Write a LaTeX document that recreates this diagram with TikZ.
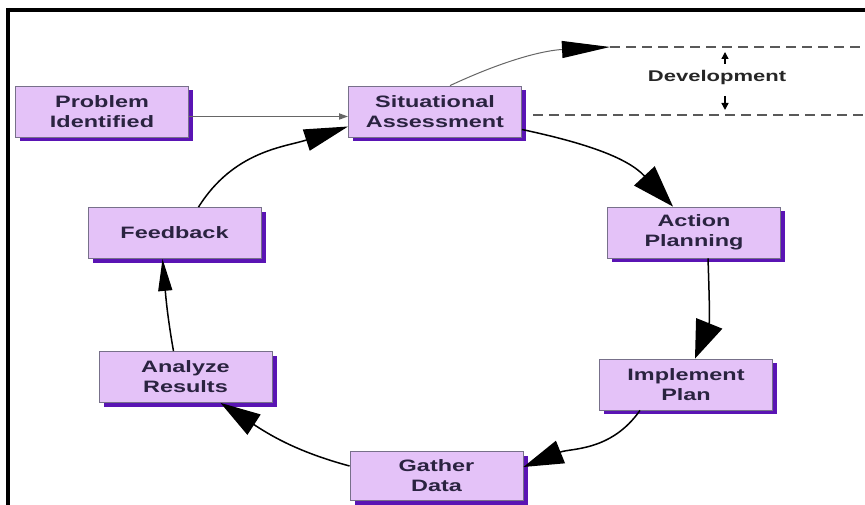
\documentclass[tikz,border=0pt]{standalone}
\usepackage{fontspec}
\newfontfamily\boxfont[FakeStretch=1.42]{Liberation Sans}
\usetikzlibrary{arrows.meta, shadows}

\definecolor{boxfill}{HTML}{E4C2F8}
\definecolor{boxshade}{HTML}{5A14B4}
\definecolor{boxtext}{HTML}{2A2340}
\definecolor{boxline}{HTML}{77708A}

\tikzset{
  phase/.style={draw=boxline, line width=0.8pt, fill=boxfill,
    minimum width=173pt, minimum height=51pt, inner sep=0pt,
    align=center, text=boxtext,
    font=\boxfont\bfseries\fontsize{16.5}{20}\selectfont,
    drop shadow={shadow xshift=4.5pt, shadow yshift=-4.5pt, fill=boxshade, opacity=1}},
  loopedge/.style={draw=black, line width=1.5pt, -{Triangle[length=40pt,width=24pt]}},
  thinedge/.style={draw=gray!80!black, line width=1pt},
  devline/.style={draw=gray!70!black, line width=1.2pt, dash pattern=on 10pt off 6pt}
}

\begin{document}
\begin{tikzpicture}[x=1pt, y=1pt]

  \useasboundingbox (0,0) rectangle (865,505);
  \fill[white] (0,0) rectangle (865,505);

  % Frame
  \draw[line width=4pt] (6,495) -- (865,495);
  \draw[line width=4.5pt] (8,497) -- (8,0);

  % Boxes
  \node[phase] (prob) at (102,393.5) {Problem\\Identified};
  \node[phase] (sit) at (435,393.5) {Situational\\Assessment};
  \node[phase] (act) at (694,272.5) {Action\\Planning};
  \node[phase] (impl) at (686,120.5) {Implement\\Plan};
  \node[phase, minimum height=49pt] (gath) at (436.5,29) {Gather\\Data};
  \node[phase] (anal) at (185.5,128) {Analyze\\Results};
  \node[phase] (feed) at (174.5,272) {Feedback};

  % Development band
  \coordinate (devtop) at (610,458);
  \coordinate (devtopend) at (865,458);
  \coordinate (devlow) at (533,390);
  \coordinate (devlowend) at (865,390);
  \draw[devline] (devtop) -- (devtopend);
  \draw[devline] (devlow) -- (devlowend);
  \node[font=\boxfont\bfseries\fontsize{15.5}{18}\selectfont, text=black!85] (dev) at (717,427) {Development};
  \draw[line width=1.4pt, -{Triangle[length=7pt,width=7pt]}] (725,441) -- (725,453);
  \draw[line width=1.4pt, -{Triangle[length=7pt,width=7pt]}] (725,409) -- (725,395);

  % Connectors
  \draw[thinedge, line width=1.6pt, -{Triangle[length=9pt,width=6pt]}]
    ([yshift=-5pt]prob.east) -- ([yshift=-5pt]sit.west);
  \draw[thinedge, -{Triangle[length=48pt,width=17pt,color=black]}]
    ([xshift=15pt]sit.north) to[out=25, in=183] (devtop);

  % Cycle
  \draw[loopedge, -{Triangle[length=42pt,width=28pt]}] ([yshift=-18pt]sit.east) to[out=-12, in=133] ([xshift=-21pt]act.north);
  \draw[loopedge, -{Triangle[length=38pt,width=28pt]}] ([xshift=14pt]act.south) to[out=-88, in=68] ([xshift=9pt]impl.north);
  \draw[loopedge] ([xshift=-46pt]impl.south) to[out=-125, in=22] ([yshift=9pt]gath.east);
  \draw[loopedge] ([yshift=10pt]gath.west) to[out=165, in=-33] ([xshift=35pt]anal.south);
  \draw[loopedge, -{Triangle[length=32pt,width=14pt]}] ([xshift=-12pt]anal.north) to[out=100, in=-85] ([xshift=-12pt]feed.south);
  \draw[loopedge, -{Triangle[length=44pt,width=22pt]}] ([xshift=24pt]feed.north) to[out=58, in=198] ([yshift=-15pt]sit.west);

\end{tikzpicture}
\end{document}
